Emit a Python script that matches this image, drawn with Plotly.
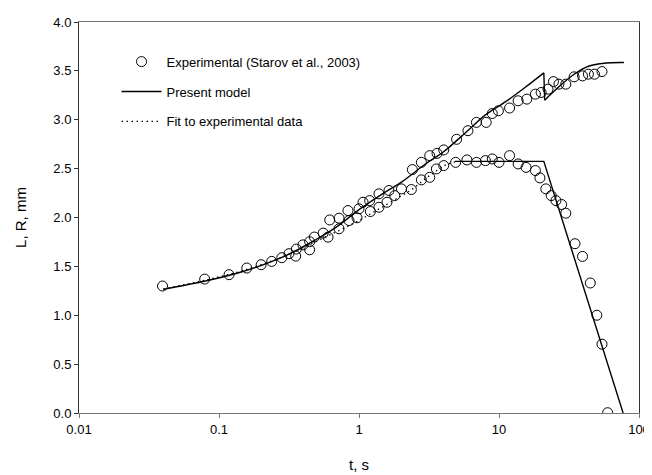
import plotly.graph_objects as go

# Experimental data (Starov et al., 2003)
t_R_exp = [0.0395, 0.079, 0.118, 0.158, 0.2, 0.238, 0.281, 0.316, 0.357, 0.398, 0.444, 0.48,
           0.555, 0.618, 0.72, 0.834, 1.0, 1.069, 1.192, 1.389, 1.637, 2.01, 2.405, 2.79, 3.2,
           3.61, 4.03, 4.98, 6.0, 6.9, 8.1, 8.95, 9.9, 11.9, 13.7, 15.8, 18.2, 20.0, 22.4,
           24.5, 26.8, 30.0, 34.4, 39.5, 43.5, 48.1, 54.4]
R_exp = [1.299, 1.370, 1.415, 1.483, 1.517, 1.551, 1.589, 1.630, 1.677, 1.72, 1.752, 1.80,
         1.84, 1.975, 1.993, 2.071, 2.089, 2.156, 2.173, 2.242, 2.276, 2.293, 2.490, 2.564, 2.633,
         2.656, 2.691, 2.80, 2.888, 2.973, 2.973, 3.064, 3.092, 3.12, 3.194, 3.211, 3.262, 3.279, 3.313,
         3.39, 3.364, 3.364, 3.439, 3.449, 3.466, 3.466, 3.493]

t_L_exp = [0.353, 0.444, 0.601, 0.72, 0.849, 0.968, 1.206, 1.389, 1.585, 1.8, 2.366, 2.79, 3.2,
           3.57, 4.03, 4.9, 5.9, 6.9, 8.0, 8.95, 10.0, 11.9, 13.7, 15.6, 18.2, 19.6, 21.6,
           23.6, 25.5, 28.0, 30.0, 34.9, 39.5, 44.9, 50.0, 54.4, 59.7]
L_exp = [1.605, 1.670, 1.799, 1.885, 1.969, 1.997, 2.061, 2.105, 2.156, 2.224, 2.286, 2.385, 2.411,
         2.497, 2.531, 2.564, 2.589, 2.564, 2.582, 2.599, 2.564, 2.633, 2.548, 2.513, 2.48, 2.405, 2.293,
         2.224, 2.173, 2.133, 2.044, 1.732, 1.602, 1.33, 1.0, 0.704, 0.003]

# Present model: R before the jump, the jump, R after the jump, and L
t_R_model_rise = [0.04, 0.08, 0.15, 0.3, 0.5, 0.7, 1.0, 1.5, 2.0, 3.0, 4.0, 6.0, 8.0, 11.3, 15.0, 20.9]
R_model_rise = [1.265, 1.35, 1.45, 1.61, 1.78, 1.91, 2.08, 2.25, 2.36, 2.55, 2.67, 2.89, 3.05, 3.19, 3.32, 3.48]
t_R_model_jump = [20.9, 21.2]
R_model_jump = [3.48, 3.20]
t_R_model_after = [21.2, 25.5, 34.0, 44.0, 58.0, 78.0]
R_model_after = [3.20, 3.31, 3.46, 3.55, 3.58, 3.585]
t_L_model = [4.85, 20.9, 77.0]
L_model = [2.574, 2.574, 0.0]

# Fit to experimental data
t_L_fit = [0.04, 0.08, 0.15, 0.3, 0.5, 0.73, 1.0, 1.4, 2.0, 2.4, 3.0, 3.6, 4.2, 4.85]
L_fit = [1.27, 1.36, 1.46, 1.61, 1.76, 1.87, 1.97, 2.09, 2.22, 2.29, 2.40, 2.48, 2.54, 2.57]

x_tickvals = [0.01, 0.1, 1, 10, 100]
x_ticktext = ["0.01", "0.1", "1", "10", "100"]

FONT = "Liberation Sans, Arial, sans-serif"
marker = dict(symbol="circle-open", size=10, color="black", line=dict(width=1, color="black"))
solid = dict(color="black", width=1.4)

fig = go.Figure()
fig.add_trace(go.Scatter(x=t_R_exp, y=R_exp, mode="markers", marker=marker,
                         name="Experimental (Starov et al., 2003)", legendgroup="a"))
fig.add_trace(go.Scatter(x=t_L_exp, y=L_exp, mode="markers", marker=marker,
                         name="Experimental (Starov et al., 2003)", legendgroup="a", showlegend=False))
fig.add_trace(go.Scatter(x=t_R_model_rise, y=R_model_rise, mode="lines", line=solid,
                         name="Present model", legendgroup="b", line_shape="spline"))
fig.add_trace(go.Scatter(x=t_R_model_jump, y=R_model_jump, mode="lines", line=solid,
                         name="Present model", legendgroup="b", showlegend=False))
fig.add_trace(go.Scatter(x=t_R_model_after, y=R_model_after, mode="lines", line=solid,
                         name="Present model", legendgroup="b", showlegend=False, line_shape="spline"))
fig.add_trace(go.Scatter(x=t_L_model, y=L_model, mode="lines", line=solid,
                         name="Present model", legendgroup="b", showlegend=False))
fig.add_trace(go.Scatter(x=t_L_fit, y=L_fit, mode="lines",
                         line=dict(color="black", width=1.3, dash="1.5px,3.5px"),
                         name="Fit to experimental data", legendgroup="c", line_shape="spline"))

fig.add_annotation(x=61.1, y=3.806, xref="x", yref="y", text="R", showarrow=False,
                   font=dict(family=FONT, size=16, color="black"))
fig.add_annotation(x=58.5, y=1.214, xref="x", yref="y", text="L", showarrow=False,
                   font=dict(family=FONT, size=16, color="black"))

# the page body adds an 8 px offset, so the figure is 8 px smaller and margins compensate
fig.update_layout(
    width=644, height=467,
    margin=dict(l=71, r=13, t=14, b=62, autoexpand=False),
    paper_bgcolor="white", plot_bgcolor="white",
    font=dict(family=FONT, size=13, color="black"),
    showlegend=True,
    legend=dict(x=0.067, y=0.937, xanchor="left", yanchor="top", bgcolor="rgba(0,0,0,0)",
                font=dict(family=FONT, size=13, color="black"),
                traceorder="grouped", tracegroupgap=10, itemwidth=40),
    xaxis=dict(type="log", range=[-2, 2], tickvals=x_tickvals, ticktext=x_ticktext,
               showgrid=False, zeroline=False, showline=True, linecolor="#777", linewidth=1,
               mirror=True, ticks="outside", ticklen=4, tickcolor="#777", automargin=False,
               title=dict(text="t, s", font=dict(family=FONT, size=15), standoff=23),
               tickfont=dict(family=FONT, size=13)),
    yaxis=dict(range=[0, 4], dtick=0.5, tickformat=".1f",
               showgrid=False, zeroline=False, showline=True, linecolor="#333", linewidth=1,
               mirror=True, ticks="outside", ticklen=4, tickcolor="#333", automargin=False,
               title=dict(text="L, R, mm", font=dict(family=FONT, size=15), standoff=23),
               tickfont=dict(family=FONT, size=13)),
)

fig.write_html("out.html")
